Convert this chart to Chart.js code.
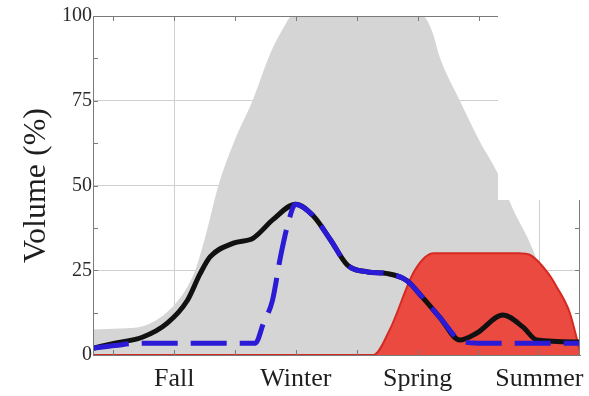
<!DOCTYPE html>
<html>
<head>
<meta charset="utf-8">
<script src="https://cdn.jsdelivr.net/npm/chart.js@4"></script>
<style>
  body { margin: 0; background: #fff; }
  #wrap { position: relative; width: 589px; height: 396px; }
  #mask { position: absolute; left: 498px; top: 0; width: 91px; height: 200px; background: #fff; }
</style>
</head>
<body>
<div id="wrap">
  <canvas id="volumeChart" width="589" height="396"></canvas>
  <div id="mask"></div>
</div>
<script>
// season labels sit on the month axis (0..12)
const seasonLabels = ['Fall', 'Winter', 'Spring', 'Summer'];
const seasonPos = [2, 5, 8, 11];
const minorPos = [0.5, 3.5, 6.5, 9.5];

// grey envelope
const grayX = [0, 0.67, 1.23, 1.65, 2.02, 2.32, 2.52, 2.77, 3.09, 3.48, 3.93, 4.37, 4.67, 4.91, 8.12, 8.37, 8.54, 9.04, 9.53, 10.0, 10.35, 10.77, 11.16, 11.53, 12];
const grayY = [7.5, 7.8, 8.5, 11, 15, 20, 25, 35, 50, 63, 75, 89, 96, 100, 100, 95, 88, 75, 63, 53, 43, 33, 21, 9, 0];

// red block
const redX = [0, 6.91, 7.31, 7.93, 8.4, 10.5, 10.77, 11.19, 11.43, 11.75, 12];
const redY = [0, 0, 7.4, 25, 30, 30, 29.5, 24.5, 20, 12.4, 1];

// black solid curve
const blackX = [0, 0.54, 1.23, 1.83, 2.32, 2.64, 2.89, 3.46, 3.95, 4.44, 4.99, 5.43, 5.85, 6.27, 6.77, 7.26, 7.73, 8.12, 8.54, 9.04, 9.46, 10.1, 10.59, 10.94, 12];
const blackY = [2, 3.5, 5.3, 9.4, 16, 24, 29, 33, 34.5, 40, 44.5, 41, 34, 26.5, 24.5, 24, 22, 17, 11.2, 4.4, 6.5, 11.8, 8.3, 4.4, 3.8];

// blue dashed curve
const blueX = [0, 0.54, 1.16, 4.0, 4.2, 4.42, 4.62, 4.81, 4.99, 5.43, 5.85, 6.27, 6.77, 7.26, 7.73, 8.12, 8.54, 9.04, 9.5, 12];
const blueY = [2, 2.8, 3.5, 3.5, 9.4, 16, 29, 39, 44.5, 41, 34, 26.5, 24.5, 24, 22, 17, 11.2, 4.4, 3.5, 3.5];

const yTicks = [0, 25, 50, 75, 100];

const toPoints = (xs, ys) => xs.map((x, i) => ({ x: x, y: ys[i] }));

const serif = '"Liberation Serif", "Times New Roman", serif';
const frameColor = '#7a7a7a';

// frame on top/left/right plus small inward ticks
const framePlugin = {
    id: 'frame',
    afterDatasetsDraw(chart) {
        const { ctx, chartArea: a, scales } = chart;
        ctx.save();
        ctx.strokeStyle = frameColor;
        ctx.lineWidth = 1;
        ctx.beginPath();
        ctx.moveTo(a.left + 0.5, a.bottom);
        ctx.lineTo(a.left + 0.5, a.top + 0.5);
        ctx.lineTo(a.right - 0.5, a.top + 0.5);
        ctx.lineTo(a.right - 0.5, a.bottom);
        const tick = 5;
        seasonPos.concat(minorPos).forEach(v => {
            const px = Math.round(scales.x.getPixelForValue(v)) + 0.5;
            ctx.moveTo(px, a.top);
            ctx.lineTo(px, a.top + tick);
            ctx.moveTo(px, a.bottom);
            ctx.lineTo(px, a.bottom - tick);
        });
        [12.5, 25, 37.5, 50, 62.5, 75, 87.5].forEach(v => {
            const py = Math.round(scales.y.getPixelForValue(v)) + 0.5;
            ctx.moveTo(a.left, py);
            ctx.lineTo(a.left + tick, py);
            ctx.moveTo(a.right, py);
            ctx.lineTo(a.right - tick, py);
        });
        ctx.stroke();
        ctx.restore();
    }
};

new Chart(document.getElementById('volumeChart'), {
    type: 'line',
    data: {
        datasets: [{
            label: 'blue',
            data: toPoints(blueX, blueY),
            borderColor: '#2b1ad6',
            borderWidth: 5,
            borderDash: [36, 13],
            cubicInterpolationMode: 'monotone',
            pointRadius: 0,
            fill: false,
            order: 1
        }, {
            label: 'black',
            data: toPoints(blackX, blackY),
            borderColor: '#111111',
            borderWidth: 5,
            cubicInterpolationMode: 'monotone',
            pointRadius: 0,
            fill: false,
            order: 2
        }, {
            label: 'red',
            data: toPoints(redX, redY),
            borderColor: '#d52a22',
            backgroundColor: '#ea4a3f',
            borderWidth: 2,
            cubicInterpolationMode: 'monotone',
            pointRadius: 0,
            fill: 'origin',
            order: 3
        }, {
            label: 'gray',
            data: toPoints(grayX, grayY),
            borderWidth: 0,
            borderColor: 'rgba(0,0,0,0)',
            backgroundColor: '#d5d5d5',
            cubicInterpolationMode: 'monotone',
            pointRadius: 0,
            fill: 'origin',
            order: 4
        }]
    },
    options: {
        responsive: false,
        animation: false,
        layout: { padding: { top: 16, right: 9, left: 0, bottom: 0 } },
        plugins: {
            legend: { display: false },
            tooltip: { enabled: false }
        },
        scales: {
            x: {
                type: 'linear',
                min: 0,
                max: 12,
                afterBuildTicks: scale => {
                    scale.ticks = seasonPos.map(v => ({ value: v }));
                },
                afterFit: scale => {
                    scale.height = 41;
                    scale.paddingLeft = 0;
                    scale.paddingRight = 0;
                },
                ticks: {
                    callback: v => seasonLabels[seasonPos.indexOf(v)],
                    font: { family: serif, size: 26 },
                    color: '#1e1e1e',
                    padding: 9,
                    maxRotation: 0,
                    autoSkip: false
                },
                grid: { color: '#cfcfcf', drawTicks: false },
                border: { color: frameColor }
            },
            y: {
                min: 0,
                max: 100,
                afterBuildTicks: scale => {
                    scale.ticks = yTicks.map(v => ({ value: v }));
                },
                afterFit: scale => {
                    scale.width = 93;
                    scale.paddingTop = 0;
                    scale.paddingBottom = 0;
                },
                ticks: {
                    font: { family: serif, size: 20 },
                    color: '#2a2a2a',
                    padding: 1
                },
                grid: { color: '#cfcfcf', drawTicks: false },
                border: { color: frameColor },
                title: {
                    display: true,
                    text: 'Volume (%)',
                    font: { family: serif, size: 32 },
                    color: '#1e1e1e',
                    padding: { top: 17, bottom: 0 }
                }
            }
        }
    },
    plugins: [framePlugin]
});
</script>
</body>
</html>
